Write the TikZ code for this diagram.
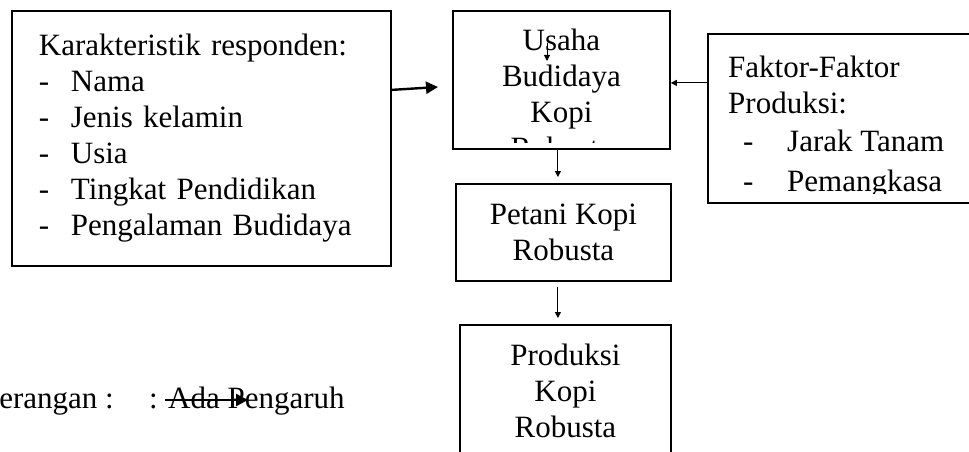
\documentclass[tikz,border=0pt]{standalone}
\usepackage{fontspec}
\setmainfont{Liberation Serif}
\usepackage{tikz}
\usetikzlibrary{positioning,arrows.meta}

\tikzset{
	kotak/.style={draw, line width=1.8pt, anchor=north west},
	panah/.style={-{Triangle[length=6pt,width=6pt]}, line width=1pt},
	panahtebal/.style={-{Triangle[length=12pt,width=12pt]}, line width=2.4pt}
}

\begin{document}
\begin{tikzpicture}[x=1pt, y=-1pt, font=\fontsize{31}{36}\selectfont]
			\useasboundingbox (0,0) rectangle (969,452);
			\clip (0,0) rectangle (969,452);

			\node[kotak, text width=325pt, inner xsep=27pt, minimum height=255pt, align=left] (karakteristik) at (11,10)
			{
				\begin{tabular}{@{}p{32pt}@{}l@{}}
					\multicolumn{2}{@{}l@{}}{Karakteristik responden:} \\
					- & Nama \\
					- & Jenis kelamin \\
					- & Usia \\
					- & Tingkat Pendidikan \\
					- & Pengalaman Budidaya \\
				\end{tabular}
			};

			\node[kotak, minimum width=217pt, minimum height=138pt] (usaha) at (452,10) {};
			\begin{scope}
				\clip (usaha.north west) rectangle ([yshift=7pt]usaha.south east);
				\node[inner sep=0pt, below=15pt of usaha.north] (usahateks)
				{
					\begin{tabular}{@{}c@{}}
						Usaha \\
						Budidaya \\
						Kopi \\
						Robusta \\
					\end{tabular}
				};
			\end{scope}

			\node[kotak, minimum width=280pt, minimum height=169pt] (faktor) at (707,33) {};
			\begin{scope}
				\clip (faktor.north west) rectangle ([yshift=10pt]faktor.south east);
				\node[inner sep=0pt, below right=19pt and 21pt of faktor.north west] (faktorteks)
				{
					\begin{tabular}{@{}p{59pt}@{}l@{}}
						\multicolumn{2}{@{}l@{}}{Faktor-Faktor} \\
						\multicolumn{2}{@{}l@{}}{Produksi:} \\[2pt]
						\hspace*{15pt}- & Jarak Tanam \\[4pt]
						\hspace*{15pt}- & Pemangkasa \\
					\end{tabular}
				};
			\end{scope}

			\node[kotak, minimum width=215pt, minimum height=97pt, align=center] (petani) at (455,183) {Petani Kopi\\Robusta};
			\node[kotak, minimum width=211pt, minimum height=132pt, align=center] (produksi) at (459,324) {Produksi\\Kopi\\Robusta};

			\node[anchor=base east, inner sep=0pt] (keterangan) at (114,408) {Keterangan :};
			\node[anchor=base west, inner sep=0pt] (pengaruh) at (149,408) {: Ada Pengaruh};

			\coordinate (ujungkarakter) at (438,87);
			\coordinate (ujungfaktor) at ([yshift=-3pt]usaha.east);
			\coordinate (ujungpetani) at ([xshift=-5.5pt,yshift=6pt]petani.north);
			\coordinate (pangkalproduksi) at ([xshift=-5.5pt,yshift=-5pt]petani.south);
			\coordinate (ujungproduksi) at ([xshift=-7.5pt,yshift=6pt]produksi.north);
			\coordinate (pangkalusaha) at (547,43);
			\coordinate (ujungusaha) at (547,61);
			\coordinate (pangkallegenda) at (165,400);
			\coordinate (ujunglegenda) at (248,400);

			\draw[panahtebal] ([yshift=48.5pt]karakteristik.east) -- (ujungkarakter);
			\draw[panah] (faktor.west |- ujungfaktor) -- (ujungfaktor);
			\draw[panah] (usaha.south -| ujungpetani) -- (ujungpetani);
			\draw[panah] (pangkalproduksi) -- (ujungproduksi);
			\draw[panah] (pangkalusaha) -- (ujungusaha);
			\draw[panahtebal] (pangkallegenda) -- (ujunglegenda);
\end{tikzpicture}
\end{document}
